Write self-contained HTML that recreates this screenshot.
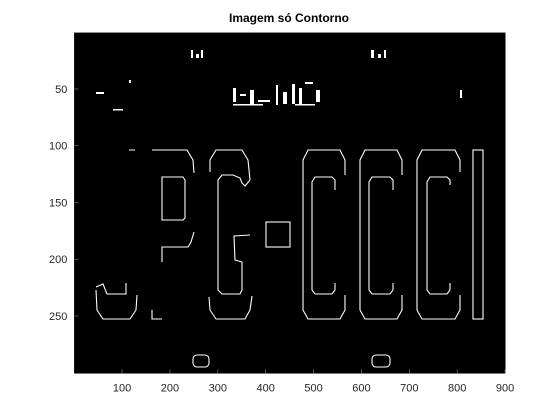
<!DOCTYPE html>
<html><head><meta charset="utf-8"><style>
html,body{margin:0;padding:0;background:#fff;width:560px;height:420px;overflow:hidden}
svg{display:block;font-family:"Liberation Sans",sans-serif}
</style></head><body>
<svg id="chart" width="560" height="420" viewBox="0 0 560 420">
<rect width="560" height="420" fill="#fff"/>
<text x="289" y="22" text-anchor="middle" font-size="12" font-weight="bold" fill="#000">Imagem só Contorno</text>
<rect x="74" y="33" width="431" height="340" fill="#000"/>
<g fill="none" stroke="#fff" stroke-width="1.1">
<path d="M96,287 L103,284 L107,294 L126,294 L126,283 M96,290 L97,310 L103,319 L130,319 L136,310 L137,295 M152,310 L152,319 L162,319"/>
<path d="M129,150 L135,150 M152,150 L187,150 L193,160 L194,173 M194,232 L191,242 L188,247 L162,247 L162,262 M162,177 L162,220 L183,220 L185,218 L185,180 L183,177 Z"/>
<path d="M210,172 L210,160 L216,150 L242,150 L248,160 L250,180 L245,186 L242,183 L240,178 L233,175 L222,175 L218,180 L218,290 L222,294 L240,294 L242,290 L242,262 L235,260 L234,236 L250,235 M209,297 L210,310 L216,319 L245,319 L250,310 L252,296"/>
<rect x="266" y="222" width="24" height="25"/>
<path d="M345,175 L345,160 L340,150 L308,150 L303,160 L303,310 L308,319 L340,319 L345,310 L345,295 M335,190 L335,180 L332,177 L315,177 L312,182 L312,290 L315,294 L332,294 L335,290 L335,283"/>
<path d="M402,175 L402,160 L397,150 L365,150 L360,160 L360,310 L365,319 L397,319 L402,310 L402,295 M393,190 L393,180 L390,177 L372,177 L369,182 L369,290 L372,294 L390,294 L393,290 L393,283"/>
<path d="M460,172 L460,160 L455,150 L422,150 L417,160 L417,310 L422,319 L455,319 L460,310 L460,295 M450,185 L450,180 L447,177 L430,177 L427,182 L427,290 L430,294 L447,294 L450,290 L450,283"/>
<rect x="473" y="150" width="10" height="169"/>
<rect x="193" y="355" width="16" height="12" rx="4"/>
<rect x="372" y="355" width="18" height="12" rx="4"/>
</g>
<g fill="#fff">
<rect x="191" y="50" width="2" height="8"/><rect x="196" y="54" width="3" height="4"/><rect x="201" y="50" width="2" height="8"/>
<rect x="371" y="50" width="3" height="8"/><rect x="378" y="54" width="3" height="4"/><rect x="384" y="50" width="2" height="8"/>
<rect x="96" y="92" width="8" height="2"/><rect x="113" y="109" width="10" height="1.5"/><rect x="129" y="80" width="2" height="3"/>
<rect x="233" y="88" width="3" height="14"/><rect x="240" y="94" width="6" height="2"/><rect x="250" y="90" width="4" height="14"/><rect x="258" y="100" width="12" height="2"/><rect x="276" y="85" width="2" height="20"/><rect x="283" y="92" width="4" height="12"/><rect x="292" y="84" width="3" height="20"/><rect x="299" y="88" width="3" height="16"/><rect x="305" y="82" width="8" height="2"/><rect x="316" y="90" width="4" height="12"/>
<rect x="233" y="104" width="30" height="1.5"/><rect x="295" y="104" width="20" height="1.5"/>
<rect x="460" y="90" width="2" height="8"/>
</g>
<g id="axes"></g>
</svg>
<script>
const xTicks=[100,200,300,400,500,600,700,800,900];
const yTicks=[50,100,150,200,250];
const nCols=900,nRows=300;
const L=74.4,R=505.3,T=32.8,B=373.3;
const xs=v=>L+(v-0.5)*(R-L)/nCols;
const ys=v=>T+(v-0.5)*(B-T)/nRows;
const ns="http://www.w3.org/2000/svg";
const g=document.getElementById('axes');
function mk(tag,a){const e=document.createElementNS(ns,tag);for(const k in a)e.setAttribute(k,a[k]);g.appendChild(e);return e;}
const box=mk('rect',{x:L,y:T,width:R-L,height:B-T,fill:'none',stroke:'#262626','stroke-width':0.6});


xTicks.forEach(v=>{
 const x=xs(v);
 const t=mk('line',{x1:x,x2:x,y1:B,y2:B-4,stroke:'#888','stroke-width':0.6});
 
 
 const l=mk('text',{x:x,y:B+18,'text-anchor':'middle','font-size':'11',fill:'#262626'});
 l.textContent=v;
 
 
});
yTicks.forEach(v=>{
 const y=ys(v);
 const t=mk('line',{x1:L,x2:L+4,y1:y,y2:y,stroke:'#888','stroke-width':0.6});
 
 
 const l=mk('text',{x:L-7,y:y+4,'text-anchor':'end','font-size':'11',fill:'#262626'});
 l.textContent=v;
 
 
});
</script>
</body></html>
